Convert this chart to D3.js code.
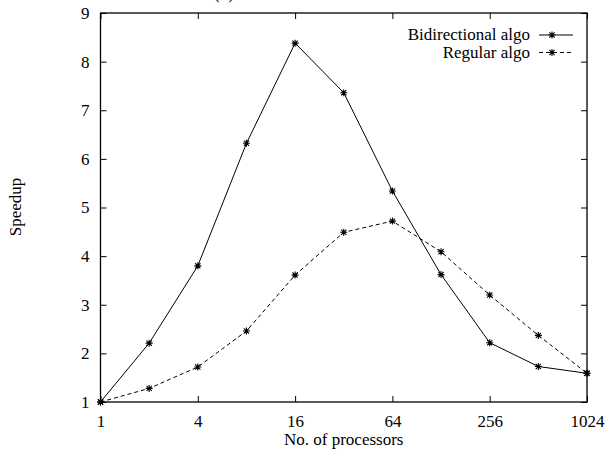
<!DOCTYPE html>
<meta charset="utf-8">
<style>
  body { margin: 0; background: #fff; }
  text { font-family: "Liberation Serif", "Times New Roman", serif; font-size: 17px; fill: #000; }
</style>
<body>
<script src="https://d3js.org/d3.v7.min.js"></script>
<script>

var width = 605,
    height = 452;

// data
var procs = [1, 2, 4, 8, 16, 32, 64, 128, 256, 512, 1024];
var bidirectional = [1, 2.21, 3.80, 6.32, 8.38, 7.36, 5.34, 3.62, 2.22, 1.73, 1.59];
var regular = [1, 1.28, 1.72, 2.46, 3.61, 4.49, 4.72, 4.09, 3.20, 2.37, 1.59];
var xTicks = [1, 4, 16, 64, 256, 1024];
var yTicks = [1, 2, 3, 4, 5, 6, 7, 8, 9];
var seriesNames = ["Bidirectional algo", "Regular algo"];

var plotLeft = 100.5, plotRight = 587, plotTop = 13, plotBottom = 402;

var x = d3.scaleLog().base(2).domain([1, 1024]).range([plotLeft, plotRight]);
var y = d3.scaleLinear().domain([1, 9]).range([plotBottom, plotTop]);

var svg = d3.select("body").append("svg")
    .attr("width", width)
    .attr("height", height);

// title remnant at very top (cropped in the original)
svg.append("text")
    .attr("x", 224)
    .attr("y", -1)
    .attr("text-anchor", "middle")
    .text("(b)");

var tick = 6;

// gnuplot-style: ticks pointing inward on all four sides
svg.append("g").attr("transform", "translate(0," + plotBottom + ")")
    .call(d3.axisBottom(x).tickValues(xTicks).tickSizeInner(-tick).tickSizeOuter(0)
      .tickPadding(13).tickFormat(d3.format("d")));
svg.append("g").attr("transform", "translate(0," + plotTop + ")")
    .call(d3.axisTop(x).tickValues(xTicks).tickSizeInner(-tick).tickSizeOuter(0).tickFormat(""));
svg.append("g").attr("transform", "translate(" + plotLeft + ",0)")
    .call(d3.axisLeft(y).tickValues(yTicks).tickSizeInner(-tick).tickSizeOuter(0)
      .tickPadding(11).tickFormat(d3.format("d")));
svg.append("g").attr("transform", "translate(" + plotRight + ",0)")
    .call(d3.axisRight(y).tickValues(yTicks).tickSizeInner(-tick).tickSizeOuter(0).tickFormat(""));

svg.selectAll(".domain").remove();
svg.selectAll(".tick line").attr("stroke", "#000");
svg.selectAll(".tick text").attr("font-size", null).attr("font-family", null)
    .style("font-size", "17px");

// frame
svg.append("rect")
    .attr("x", plotLeft).attr("y", plotTop)
    .attr("width", plotRight - plotLeft).attr("height", plotBottom - plotTop)
    .attr("fill", "none").attr("stroke", "#000").attr("stroke-width", 1.3);

// axis titles
svg.append("text")
    .attr("x", (plotLeft + plotRight) / 2)
    .attr("y", 445)
    .attr("text-anchor", "middle")
    .text("No. of processors");

svg.append("text")
    .attr("transform", "translate(21,207) rotate(-90)")
    .attr("text-anchor", "middle")
    .text("Speedup");

var line = d3.line()
    .x(function(d) { return x(d[0]); })
    .y(function(d) { return y(d[1]); });

function asterisk(cx, cy) {
  var r = 3.5, d = 2.6;
  return "M" + (cx - r) + "," + cy + "H" + (cx + r) +
         "M" + cx + "," + (cy - r) + "V" + (cy + r) +
         "M" + (cx - d) + "," + (cy - d) + "L" + (cx + d) + "," + (cy + d) +
         "M" + (cx - d) + "," + (cy + d) + "L" + (cx + d) + "," + (cy - d);
}

var series = [
  { name: seriesNames[0], values: bidirectional, dash: null },
  { name: seriesNames[1], values: regular, dash: "4,3" }
];

series.forEach(function(s, i) {
  var pts = procs.map(function(p, j) { return [p, s.values[j]]; });
  svg.append("path")
      .datum(pts)
      .attr("fill", "none")
      .attr("stroke", "#000")
      .attr("stroke-width", 1)
      .attr("stroke-dasharray", s.dash)
      .attr("d", line);
  svg.append("g").selectAll("path")
      .data(pts)
    .enter().append("path")
      .attr("d", function(d) { return asterisk(x(d[0]), y(d[1])); })
      .attr("stroke", "#000")
      .attr("stroke-width", 1.1)
      .attr("fill", "none");

  // legend
  var ly = 35 + i * 17.5;
  svg.append("text")
      .attr("x", 530)
      .attr("y", ly + 5)
      .attr("text-anchor", "end")
      .text(s.name);
  svg.append("line")
      .attr("x1", 539).attr("x2", 573)
      .attr("y1", ly).attr("y2", ly)
      .attr("stroke", "#000")
      .attr("stroke-dasharray", s.dash);
  svg.append("path")
      .attr("d", asterisk(552, ly))
      .attr("stroke", "#000")
      .attr("stroke-width", 1.1)
      .attr("fill", "none");
});

</script>
